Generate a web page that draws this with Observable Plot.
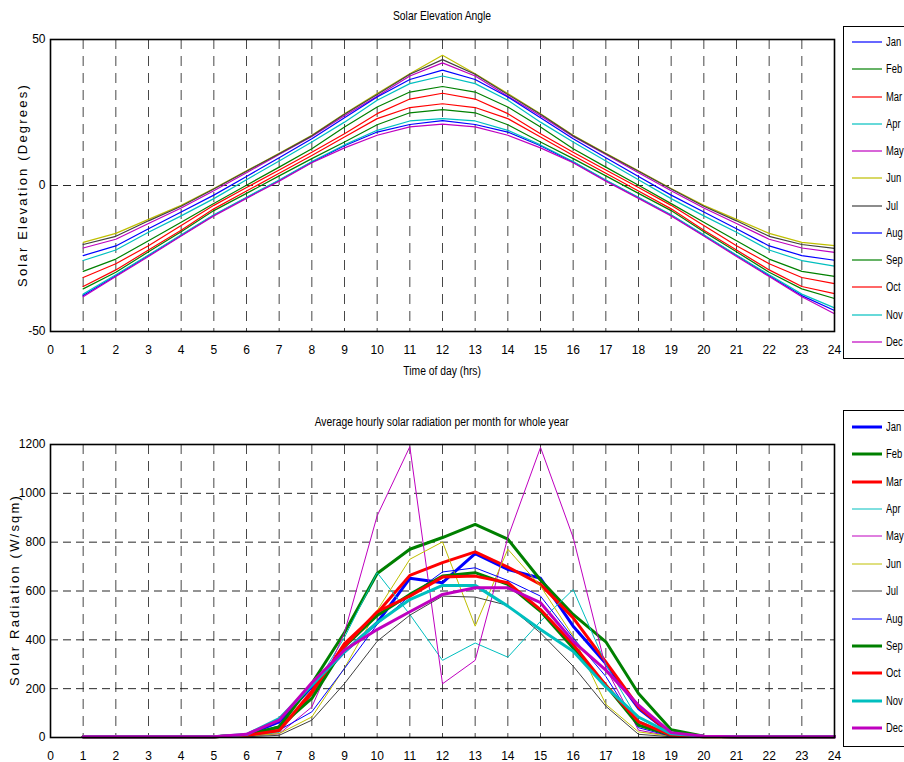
<!DOCTYPE html>
<html><head><meta charset="utf-8">
<script src="https://cdn.jsdelivr.net/npm/d3@7"></script>
<script src="https://cdn.jsdelivr.net/npm/@observablehq/plot@0.6"></script>
<style>
body{margin:0;background:#fff;width:904px;height:762px;overflow:hidden;position:relative;font-family:"Liberation Sans",Arial,sans-serif;color:#000;}
.abs{position:absolute;white-space:nowrap;}
.ttl{font-size:12px;text-align:center;}
.ttl span{display:inline-block;transform:scaleX(0.86);}
.ylab{font-size:13px;letter-spacing:2.2px;transform:translate(-50%,-50%) rotate(-90deg);}
.legend{position:absolute;border:1px solid #000;background:#fff;width:80px;}
.row{position:absolute;left:0;height:16px;font-size:12px;line-height:16px;}
.row svg{position:absolute;left:7px;top:0;}
.row span{position:absolute;left:42px;top:0;display:inline-block;transform:scaleX(0.78);transform-origin:0 50%;}
</style></head>
<body>
<script>
// ---------- data ----------
const months = ["Jan","Feb","Mar","Apr","May","Jun","Jul","Aug","Sep","Oct","Nov","Dec"];
const hours = [1,2,3,4,5,6,7,8,9,10,11,12,13,14,15,16,17,18,19,20,21,22,23,24];
const hourTicks = [0,1,2,3,4,5,6,7,8,9,10,11,12,13,14,15,16,17,18,19,20,21,22,23,24];
const elevTicks = [-50,0,50];
const radTicks = [0,200,400,600,800,1000,1200];

// Solar elevation (degrees), hours 1..24
const elevJan = [-37.7,-30.9,-24.0,-17.1,-10.2,-4.2,1.7,8.0,13.6,18.3,20.9,22.2,20.9,18.3,13.6,8.0,1.7,-4.2,-10.2,-17.1,-24.0,-30.9,-37.7,-42.8];
const elevFeb = [-35.4,-29.7,-22.7,-15.8,-8.6,-2.7,3.3,9.2,14.9,20.8,24.9,26.0,24.9,20.8,14.9,9.2,3.3,-2.7,-8.6,-15.8,-22.7,-29.7,-35.4,-38.7];
const elevMar = [-31.5,-26.8,-20.6,-13.7,-6.8,-0.7,5.3,11.4,17.7,24.6,29.6,31.6,29.6,24.6,17.7,11.4,5.3,-0.7,-6.8,-13.7,-20.6,-26.8,-31.5,-33.6];
const elevApr = [-25.7,-22.1,-16.0,-10.4,-4.5,2.0,8.4,14.9,21.7,29.2,34.9,37.5,34.9,29.2,21.7,14.9,8.4,2.0,-4.5,-10.4,-16.0,-22.1,-25.7,-27.6];
const elevMay = [-21.4,-18.4,-13.0,-7.7,-1.8,4.4,10.6,16.8,23.9,30.6,37.5,42.0,37.5,30.6,23.9,16.8,10.6,4.4,-1.8,-7.7,-13.0,-18.4,-21.4,-22.9];
const elevJun = [-19.5,-16.4,-11.6,-6.8,-1.0,5.0,11.0,17.2,24.6,31.5,38.3,44.6,38.3,31.5,24.6,17.2,11.0,5.0,-1.0,-6.8,-11.6,-16.4,-19.5,-20.6];
const elevJul = [-20.2,-17.4,-12.1,-7.1,-1.2,4.9,10.9,17.0,24.4,31.2,38.1,43.1,38.1,31.2,24.4,17.0,10.9,4.9,-1.2,-7.1,-12.1,-17.4,-20.2,-21.5];
const elevAug = [-24.0,-20.7,-14.8,-9.1,-3.3,3.1,9.5,16.0,23.2,30.3,36.3,39.5,36.3,30.3,23.2,16.0,9.5,3.1,-3.3,-9.1,-14.8,-20.7,-24.0,-25.6];
const elevSep = [-29.4,-25.2,-18.9,-12.6,-6.2,0.1,6.3,12.6,20.0,26.9,32.0,33.9,32.0,26.9,20.0,12.6,6.3,0.1,-6.2,-12.6,-18.9,-25.2,-29.4,-31.1];
const elevOct = [-34.6,-28.9,-22.1,-15.3,-8.0,-1.9,4.2,10.3,16.6,22.9,26.7,28.0,26.7,22.9,16.6,10.3,4.2,-1.9,-8.0,-15.3,-22.1,-28.9,-34.6,-37.0];
const elevNov = [-37.2,-30.6,-23.8,-16.9,-10.0,-4.0,1.9,8.2,13.9,18.9,22.1,22.9,22.1,18.9,13.9,8.2,1.9,-4.0,-10.0,-16.9,-23.8,-30.6,-37.2,-41.9];
const elevDec = [-38.1,-31.2,-24.3,-17.3,-10.4,-4.4,1.5,7.8,12.9,17.2,20.1,21.0,20.1,17.2,12.9,7.8,1.5,-4.4,-10.4,-17.3,-24.3,-31.2,-38.1,-43.9];

// Average hourly solar radiation (W/sqm), hours 1..24
const radJan = [3,3,3,3,3,9,64,208,351,470,652,634,753,688,652,456,303,119,15,5,3,3,3,3];
const radFeb = [3,3,3,3,3,9,43,221,430,672,771,819,873,812,645,504,392,180,32,5,3,3,3,3];
const radMar = [3,3,3,3,3,9,29,180,385,510,664,716,760,698,627,490,310,125,15,5,3,3,3,3];
const radApr = [3,3,3,3,3,5,20,190,410,675,504,316,387,329,476,606,300,70,10,3,3,3,3,3];
const radMay = [3,3,3,3,3,5,15,125,430,908,1191,220,316,819,1188,819,285,30,5,3,3,3,3,3];
const radJun = [3,3,3,3,3,5,16,84,285,520,730,801,456,771,620,415,136,23,5,3,3,3,3,3];
const radJul = [3,3,3,3,3,3,9,71,221,394,501,579,575,541,428,292,128,13,3,3,3,3,3,3];
const radAug = [3,3,3,3,3,5,30,105,283,463,580,678,695,643,579,408,250,40,5,3,3,3,3,3];
const radSep = [3,3,3,3,3,9,43,160,372,500,586,661,675,627,517,367,214,50,10,3,3,3,3,3];
const radOct = [3,3,3,3,3,9,29,190,375,515,579,657,661,634,524,381,214,64,10,3,3,3,3,3];
const radNov = [3,3,3,3,3,12,77,214,351,470,565,623,623,538,442,353,207,84,15,5,3,3,3,3];
const radDec = [3,3,3,3,3,13,71,224,358,442,515,586,613,613,552,394,276,132,20,5,3,3,3,3];

const elevSeries = [elevJan,elevFeb,elevMar,elevApr,elevMay,elevJun,elevJul,elevAug,elevSep,elevOct,elevNov,elevDec];
const radSeries = [radJan,radFeb,radMar,radApr,radMay,radJun,radJul,radAug,radSep,radOct,radNov,radDec];

// ---------- styles ----------
const colors = ["#0000ff","#008000","#ff0000","#00bfbf","#bf00bf","#bfbf00","#404040","#0000ff","#008000","#ff0000","#00bfbf","#bf00bf"];
const radWidths = [3,3,3,1,1,1,1,1,3,3,3,3];
const FONT = '"Liberation Sans",Arial,sans-serif';

function rows(series){ return series.map((vals,mi)=>hours.map((h,i)=>({month:months[mi],hour:h,value:vals[i]}))); }

function panel(opts){
  const data = rows(opts.series);
  const marks = [
    Plot.gridX(hourTicks.filter(h=>h>0&&h<24), {stroke:"#333", strokeOpacity:0.9, strokeDasharray:"10,7"}),
    Plot.gridY(opts.yTicks.slice(1,-1), {stroke:"#111", strokeOpacity:0.9, strokeDasharray:"8,5"}),
    ...data.map((d,mi)=>Plot.line(d,{x:"hour",y:"value",stroke:colors[mi],strokeWidth:opts.widths[mi]})),
    Plot.frame({stroke:"#000",strokeWidth:1.6})
  ];
  return Plot.plot({
    width:904, height:opts.height,
    marginLeft:50, marginRight:70, marginTop:opts.mt, marginBottom:opts.mb,
    style:{fontFamily:FONT,fontSize:"12px",color:"#000",background:"transparent",overflow:"visible"},
    x:{domain:[0,24],ticks:hourTicks,tickSize:0,tickPadding:14,label:null,tickFormat:d=>String(d)},
    y:{domain:opts.yDomain,ticks:opts.yTicks,tickSize:0,tickPadding:5,label:null,tickFormat:d=>String(d)},
    marks
  });
}

function place(el, top){ el.style.position="absolute"; el.style.left="0px"; el.style.top=top+"px"; document.body.appendChild(el); }
function text(str, cls, css, wrap){ const d=document.createElement("div"); d.className="abs "+cls; if(wrap){const s=document.createElement("span"); s.textContent=str; d.appendChild(s);} else d.textContent=str; Object.assign(d.style, css); document.body.appendChild(d); return d; }
function legend(top, height, rowTop, step, widths){
  const box=document.createElement("div"); box.className="legend";
  box.style.left="843px"; box.style.top=top+"px"; box.style.height=height+"px";
  months.forEach((m,i)=>{
    const r=document.createElement("div"); r.className="row"; r.style.top=(rowTop+step*i-8)+"px"; r.style.width="60px";
    r.innerHTML=`<svg width="32" height="16"><line x1="1" x2="31" y1="8" y2="8" stroke="${colors[i]}" stroke-width="${widths[i]}"/></svg><span>${m}</span>`;
    box.appendChild(r);
  });
  document.body.appendChild(box);
}

place(panel({series:elevSeries, widths:colors.map(()=>1.2), height:390, mt:39, mb:59, yDomain:[-50,50], yTicks:elevTicks}), 0);
place(panel({series:radSeries, widths:radWidths, height:362, mt:44, mb:25, yDomain:[0,1200], yTicks:radTicks}), 400);

text("Solar Elevation Angle","ttl",{left:"50px",width:"784px",top:"9px"},true);
text("Time of day (hrs)","ttl",{left:"50px",width:"784px",top:"364px"},true);
text("Average hourly solar radiation per month for whole year","ttl",{left:"50px",width:"784px",top:"415px"},true);
text("Solar Elevation (Degrees)","ylab",{left:"22px",top:"185px"});
text("Solar Radiation (W/sqm)","ylab",{left:"14px",top:"590px"});

legend(26, 331, 15, 27.27, colors.map(()=>1.2));
legend(410, 335, 16, 27.36, radWidths);
</script>
</body></html>
